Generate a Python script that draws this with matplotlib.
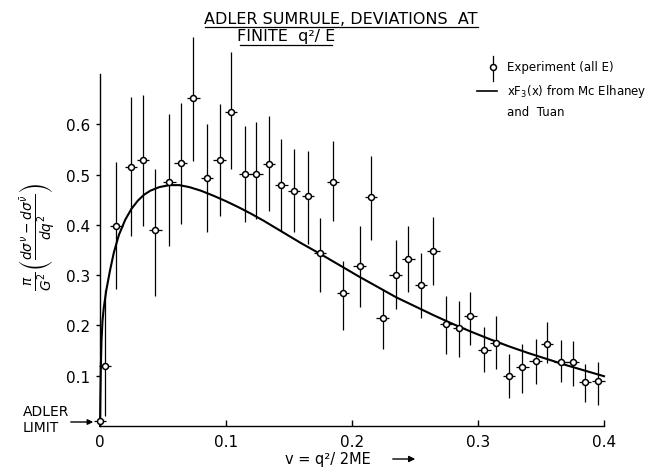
import matplotlib
matplotlib.use("Agg")
import matplotlib.pyplot as plt
import numpy as np

plt.rcParams['font.family'] = ['DejaVu Sans']

# Experimental data (nu, value, lower end of error bar, upper end of error bar)
exp_x = [0.000, 0.004, 0.013, 0.0246, 0.034, 0.044, 0.055, 0.064, 0.074, 0.085,
         0.095, 0.104, 0.115, 0.124, 0.134, 0.144, 0.154, 0.165, 0.1746, 0.185,
         0.193, 0.206, 0.215, 0.2243, 0.2346, 0.2447, 0.2548, 0.2646, 0.2746, 0.285,
         0.294, 0.305, 0.3143, 0.3246, 0.3352, 0.3458, 0.3548, 0.3656, 0.375, 0.385,
         0.3955]
exp_y = [0.010, 0.120, 0.398, 0.516, 0.529, 0.390, 0.486, 0.524, 0.653, 0.494,
         0.529, 0.624, 0.502, 0.502, 0.521, 0.479, 0.467, 0.457, 0.344, 0.486,
         0.264, 0.319, 0.456, 0.215, 0.300, 0.333, 0.280, 0.349, 0.203, 0.194,
         0.218, 0.151, 0.165, 0.099, 0.117, 0.129, 0.163, 0.127, 0.127, 0.087,
         0.090]
exp_lo = [0.010, 0.020, 0.272, 0.378, 0.398, 0.259, 0.358, 0.402, 0.527, 0.385,
          0.418, 0.511, 0.405, 0.411, 0.428, 0.388, 0.386, 0.362, 0.266, 0.408,
          0.191, 0.236, 0.370, 0.153, 0.233, 0.266, 0.214, 0.281, 0.143, 0.137,
          0.161, 0.107, 0.113, 0.055, 0.066, 0.083, 0.126, 0.087, 0.079, 0.048,
          0.042]
exp_hi = [0.010, 0.270, 0.525, 0.654, 0.658, 0.511, 0.620, 0.642, 0.773, 0.600,
          0.640, 0.743, 0.597, 0.605, 0.616, 0.571, 0.551, 0.547, 0.413, 0.567,
          0.329, 0.397, 0.536, 0.272, 0.370, 0.398, 0.344, 0.415, 0.258, 0.249,
          0.266, 0.196, 0.218, 0.143, 0.163, 0.173, 0.207, 0.172, 0.170, 0.123,
          0.127]
exp_xerr = 0.005

# xF3(x) curve from McElhaney and Tuan
curve_x = [0.0, 0.0003, 0.0007, 0.0012, 0.002, 0.003, 0.005, 0.008, 0.011, 0.015,
           0.020, 0.025, 0.030, 0.035, 0.040, 0.047, 0.055, 0.063, 0.071, 0.080,
           0.090, 0.100, 0.110, 0.120, 0.130, 0.140, 0.150, 0.160, 0.175, 0.190,
           0.205, 0.220, 0.235, 0.250, 0.265, 0.280, 0.295, 0.310, 0.325, 0.340,
           0.355, 0.370, 0.385, 0.400]
curve_y = [0.0, 0.06, 0.12, 0.17, 0.21, 0.235, 0.27, 0.31, 0.345, 0.38,
           0.41, 0.432, 0.448, 0.46, 0.468, 0.475, 0.479, 0.479, 0.475, 0.468,
           0.458, 0.447, 0.435, 0.422, 0.408, 0.393, 0.378, 0.363, 0.342, 0.320,
           0.298, 0.277, 0.256, 0.238, 0.220, 0.203, 0.187, 0.172, 0.158, 0.145,
           0.133, 0.121, 0.110, 0.099]

x_ticks = [0, 0.1, 0.2, 0.3, 0.4]
x_ticklabels = ['0', '0.1', '0.2', '0.3', '0.4']
y_ticks = [0.1, 0.2, 0.3, 0.4, 0.5, 0.6]
y_ticklabels = ['0.1', '0.2', '0.3', '0.4', '0.5', '0.6']

fig = plt.figure(figsize=(6.72, 4.77), dpi=100)
ax = fig.add_axes([100/672, 1-427/477, 504/672, 352/477])
ax.set_xlim(0, 0.4)
ax.set_ylim(0, 0.7)

ey = np.array(exp_y)
yerr = [ey - np.array(exp_lo), np.array(exp_hi) - ey]
ax.errorbar(exp_x, exp_y, yerr=yerr, xerr=exp_xerr, fmt='o', ms=4.3,
            mfc='white', mec='black', mew=1.1, ecolor='black', elinewidth=0.9,
            capsize=0, clip_on=False, zorder=3)
ax.plot(curve_x, curve_y, color='black', lw=1.5, zorder=2, clip_on=False)

for s in ['top', 'right']:
    ax.spines[s].set_visible(False)
for s in ['left', 'bottom']:
    ax.spines[s].set_linewidth(1.0)

ax.set_xticks(x_ticks)
ax.set_xticklabels(x_ticklabels, fontsize=11)
ax.set_yticks(y_ticks)
ax.set_yticklabels(y_ticklabels, fontsize=11)
ax.tick_params(axis='x', direction='in', length=4, width=1, pad=6)
ax.tick_params(axis='y', direction='out', length=3, width=1, pad=4)

# y label
fig.text(37/672, 1-237/477,
         r'$\frac{\pi}{G^2}\left(\frac{d\sigma^{\nu}-d\sigma^{\bar{\nu}}}{dq^2}\right)$',
         rotation=90, ha='center', va='center', fontsize=14)

# x label with arrow
fig.text(285/672, 1-460/477, 'v = q²/ 2ME', ha='left', va='center', fontsize=10.5)
ax.annotate('', xy=(418/672, 1-460/477), xycoords='figure fraction',
            xytext=(390/672, 1-460/477), textcoords='figure fraction',
            arrowprops=dict(arrowstyle='-|>', color='black', lw=1, mutation_scale=9))

# ADLER LIMIT label
fig.text(23/672, 1-412/477, 'ADLER', ha='left', va='center', fontsize=10)
fig.text(23/672, 1-428/477, 'LIMIT', ha='left', va='center', fontsize=10)
ax.annotate('', xy=(96/672, 1-423/477), xycoords='figure fraction',
            xytext=(68/672, 1-423/477), textcoords='figure fraction',
            arrowprops=dict(arrowstyle='-|>', color='black', lw=1, mutation_scale=8))

# Title (underlined)
fig.text(341/672, 1-19/477, 'ADLER SUMRULE, DEVIATIONS  AT', ha='center',
         va='center', fontsize=11.5)
fig.text(286/672, 1-37/477, 'FINITE  q²/ E', ha='center', va='center',
         fontsize=11.5)
fig.add_artist(plt.Line2D([205/672, 478/672], [1-28/477, 1-28/477], color='black', lw=0.9))
fig.add_artist(plt.Line2D([240/672, 332/672], [1-46/477, 1-46/477], color='black', lw=0.9))

# Legend drawn manually
lx = 493
fig.add_artist(plt.Line2D([lx/672, lx/672], [1-57/477, 1-82/477], color='black', lw=0.9))
fig.add_artist(plt.Line2D([lx/672], [1-68/477], marker='o', ms=4.3, mfc='white',
                          mec='black', mew=1.1))
fig.text(507/672, 1-68/477, 'Experiment (all E)', ha='left', va='center', fontsize=8.5)
fig.add_artist(plt.Line2D([477/672, 497/672], [1-92/477, 1-92/477], color='black', lw=1.2))
fig.text(507/672, 1-92/477, 'xF$_3$(x) from Mc Elhaney', ha='left', va='center', fontsize=8.5)
fig.text(507/672, 1-112/477, 'and  Tuan', ha='left', va='center', fontsize=8.5)

fig.savefig('out.png', dpi=100)
